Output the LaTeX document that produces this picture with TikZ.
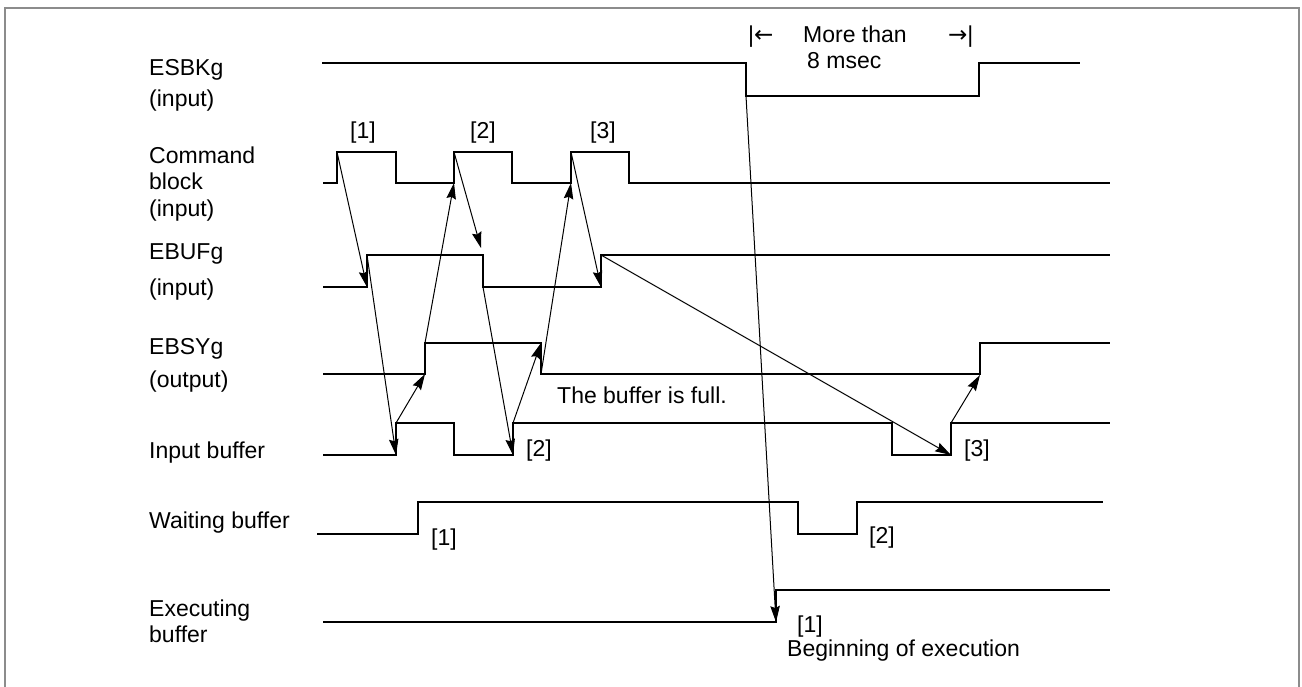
\documentclass[tikz,border=0pt]{standalone}
\usepackage{fontspec}
\setmainfont{Liberation Sans}
\newfontfamily\arrowfont{DejaVu Sans}
\usetikzlibrary{arrows.meta}
\begin{document}
\begin{tikzpicture}[x=1pt,y=-1pt,
  lbl/.style={font=\fontsize{23}{27}\selectfont, inner sep=0pt, anchor=base west},
  tag/.style={font=\fontsize{23}{27}\selectfont, inner sep=0pt, anchor=base},
  sig/.style={line width=1.4pt, line join=miter},
  cause/.style={line width=1pt, -{Stealth[length=16pt,width=9.5pt,inset=2pt]}},
  frame/.style={draw=black!45, line width=2pt}]
\useasboundingbox (0,0) rectangle (1302,686);
\draw[frame] (5,688) -- (5,8) -- (1299,8) -- (1299,688);

% signal labels
\node[lbl] (l1) at (149,75) {ESBKg};
\node[lbl] (l2) at (149,106) {(input)};
\node[lbl] (l3) at (149,163) {Command};
\node[lbl] (l4) at (149,189) {block};
\node[lbl] (l5) at (149,216) {(input)};
\node[lbl] (l6) at (149,259) {EBUFg};
\node[lbl] (l7) at (149,295) {(input)};
\node[lbl] (l8) at (149,354) {EBSYg};
\node[lbl] (l9) at (149,387) {(output)};
\node[lbl] (l10) at (149,458) {Input buffer};
\node[lbl] (l11) at (149,528) {Waiting buffer};
\node[lbl] (l12) at (149,616) {Executing};
\node[lbl] (l13) at (149,642) {buffer};

% waveforms
\draw[sig] (322,63) -- (746,63) -- (746,96) -- (979,96) -- (979,63) -- (1080,63);
\draw[sig] (323,183) -- (337,183) -- (337,152) -- (396,152) -- (396,183) -- (454,183) -- (454,152) -- (512,152) -- (512,183) -- (571,183) -- (571,152) -- (629,152) -- (629,183) -- (1110,183);
\draw[sig] (323,287) -- (367,287) -- (367,255) -- (483,255) -- (483,287) -- (601,287) -- (601,255) -- (1110,255);
\draw[sig] (323,374) -- (425,374) -- (425,343) -- (541,343) -- (541,374) -- (980,374) -- (980,343) -- (1110,343);
\draw[sig] (323,455) -- (396,455) -- (396,423) -- (454,423) -- (454,455) -- (513,455) -- (513,423) -- (892,423) -- (892,455) -- (951,455) -- (951,423) -- (1110,423);
\draw[sig] (317,534) -- (418,534) -- (418,502) -- (798,502) -- (798,534) -- (857,534) -- (857,502) -- (1103,502);
\draw[sig] (323,622) -- (776,622) -- (776,590) -- (1110,590);

% event points
\coordinate (c1t) at (337,152);
\coordinate (c2t) at (454,152);
\coordinate (c2b) at (454,183);
\coordinate (c3t) at (571,152);
\coordinate (c3b) at (571,183);
\coordinate (u1b) at (367,287);
\coordinate (u1t) at (367,255);
\coordinate (u2t) at (481,248);
\coordinate (u2b) at (483,287);
\coordinate (u3b) at (601,287);
\coordinate (u3t) at (601,255);
\coordinate (s1b) at (425,374);
\coordinate (s1t) at (425,343);
\coordinate (s2t) at (541,343);
\coordinate (s2b) at (541,374);
\coordinate (s3b) at (980,375);
\coordinate (i1b) at (396,455);
\coordinate (i1t) at (396,423);
\coordinate (i2b) at (513,455);
\coordinate (i2t) at (513,423);
\coordinate (i3b) at (951,455);
\coordinate (i3t) at (951,423);
\coordinate (e0) at (746,96);
\coordinate (x1) at (776,622);

% causal arrows
\draw[cause] (c1t) -- (u1b);
\draw[cause] (u1t) -- (i1b);
\draw[cause] (i1t) -- (s1b);
\draw[cause] (s1t) -- (c2b);
\draw[cause] (c2t) -- (u2t);
\draw[cause] (u2b) -- (i2b);
\draw[cause] (i2t) -- (s2t);
\draw[cause] (s2b) -- (c3b);
\draw[cause] (c3t) -- (u3b);
\draw[cause] (u3t) -- (i3b);
\draw[cause] (i3t) -- (s3b);
\draw[cause] (e0) -- (x1);

% annotations
\node[tag] (t1) at (363,138) {[1]};
\node[tag] (t2) at (483,138) {[2]};
\node[tag] (t3) at (603,138) {[3]};
\node[lbl] (m1) at (748,42) {|\arrowfont ←};
\node[lbl] (m2) at (803,42) {More than};
\node[lbl] (m3) at (948,42) {\arrowfont →\normalfont|};
\node[lbl] (m4) at (807,68) {8 msec};
\node[lbl] (full) at (557,403) {The buffer is full.};
\node[tag] (b2) at (539,456) {[2]};
\node[tag] (b3) at (977,456) {[3]};
\node[tag] (w1) at (444,545) {[1]};
\node[tag] (w2) at (882,543) {[2]};
\node[tag] (x1l) at (810,632) {[1]};
\node[lbl] (beg) at (787,656) {Beginning of execution};
\end{tikzpicture}
\end{document}
